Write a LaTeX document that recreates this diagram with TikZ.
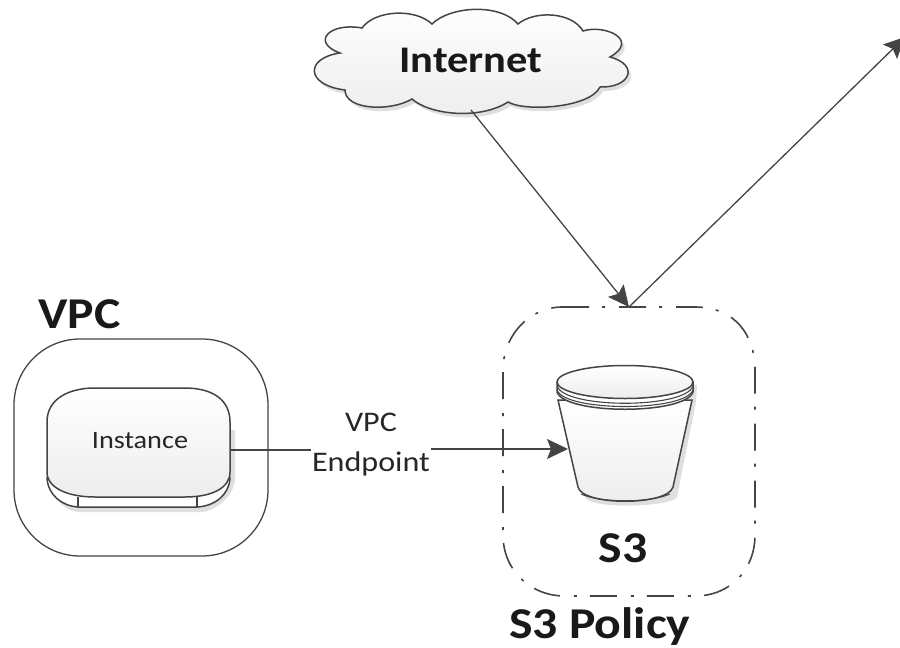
\documentclass[tikz,border=0pt]{standalone}
\usepackage{fontspec}
\setmainfont[FakeStretch=1.13]{Carlito}
\usetikzlibrary{arrows.meta}
\definecolor{ink}{HTML}{444444}
\definecolor{soft}{HTML}{EDEDED}
\definecolor{shade}{HTML}{D4D4D4}
\tikzset{
  outline/.style={draw=ink,line width=1.5pt},
  face/.style={outline,top color=white,bottom color=soft},
  softshadow/.style={fill=shade,draw=none,opacity=.75},
  wire/.style={draw=ink,line width=1.3pt},
  conn/.style={wire,-{Stealth[length=21pt,width=20pt,inset=4pt]}},
  anchorbox/.style={inner sep=0pt,outer sep=0pt,draw=none},
  biglabel/.style={font=\fontsize{44}{48}\selectfont\bfseries,text=black!90,inner sep=0pt},
  smalllabel/.style={font=\fontsize{25}{40}\selectfont,text=black!85,inner sep=1pt,align=center}
}
\begin{document}
\begin{tikzpicture}[x=1pt,y=-1pt]
\useasboundingbox (0,0) rectangle (900,648);
% cloud
\def\cloudpath{(362,28) .. controls (375,10) and (415,8) .. (432,24)
  .. controls (450,6) and (500,3) .. (518,24)
  .. controls (535,10) and (572,12) .. (583,31)
  .. controls (605,24) and (640,40) .. (610,57)
  .. controls (640,65) and (630,88) .. (600,87)
  .. controls (590,108) and (525,112) .. (508,102)
  .. controls (480,120) and (430,115) .. (412,99)
  .. controls (390,112) and (345,110) .. (345,90)
  .. controls (305,85) and (305,58) .. (340,53)
  .. controls (310,42) and (330,22) .. (362,28) -- cycle}
\fill[softshadow,shift={(3,4)}] \cloudpath;
\path[face] \cloudpath;
\node[anchorbox,minimum width=290pt,minimum height=100pt,font=\fontsize{37.6}{40}\selectfont\bfseries,text=black!90] (internet) at (471,60) {Internet};
% VPC
\node[anchorbox,draw=ink,line width=1.3pt,rounded corners=66pt,minimum width=254pt,minimum height=217pt] (vpc) at (141,447.5) {};
\node[biglabel,anchor=base west] (vpclabel) at (38,328) {VPC};
% instance
\fill[softshadow] (52,430) -- (235,430) -- (235,480) .. controls (233,497) and (215,512) .. (200,512) -- (80,512) .. controls (65,512) and (50,497) .. (50,480) -- cycle;
\path[outline,fill=white] (47,478) .. controls (48,495) and (62,506) .. (78,507) -- (197,507) .. controls (215,506) and (229,495) .. (230,478) -- cycle;
\draw[ink,line width=1.5pt] (78,497) -- (78,507) (197,497) -- (197,507);
\path[face] (47,422) .. controls (47,398) and (70,388) .. (95,388) -- (185,388) .. controls (210,388) and (230,398) .. (230,422)
  -- (230,472) .. controls (230,488) and (212,497) .. (185,497) -- (95,497) .. controls (68,497) and (47,488) .. (47,472) -- cycle;
\node[anchorbox,minimum width=183pt,minimum height=120pt] (instance) at (138.5,450) {};
\node[smalllabel] (instancelabel) at (140,441) {Instance};
% S3 policy boundary
\node[anchorbox,minimum width=252pt,minimum height=289pt] (policy) at (629,451.5) {};
\draw[ink,line width=1.6pt,dash pattern=on 27pt off 13pt on 3pt off 14pt] (562,307) -- (695,307) .. controls (735,307) and (755,335) .. (755,370) -- (755,535)
  .. controls (755,570) and (730,596) .. (695,596) -- (565,596) .. controls (530,596) and (503,570) .. (503,535) -- (503,370) .. controls (503,335) and (530,307) .. (562,307);
\node[biglabel,anchor=base west] (policylabel) at (509,638) {S3 Policy};
% bucket
\fill[softshadow] (562,385) -- (697,385) -- (696,402) -- (677,497) .. controls (672,507) and (590,510) .. (585,497) -- cycle;
\path[face] (558,400) -- (578,487) .. controls (582,506) and (668,506) .. (673,487) -- (692,400) -- cycle;
\draw[ink,line width=1pt] (581,494) .. controls (600,503) and (650,503) .. (670,494);
\path[outline,fill=white] (557,382) -- (557,392) .. controls (565,415) and (685,415) .. (693,392) -- (693,382) -- cycle;
\draw[ink,line width=1.1pt] (557,386) .. controls (565,409) and (685,409) .. (693,386)
  (557,390) .. controls (565,412) and (685,412) .. (693,390);
\path[face] (625,382) ellipse [x radius=68,y radius=16.5];
\node[anchorbox,minimum width=114pt,minimum height=120pt] (bucket) at (625,449) {};
\node[biglabel] (s3label) at (623,548) {S3};
% connectors
\coordinate (outside) at (905,37);
\draw[conn] (internet.south) -- (policy.north);
\draw[conn] (policy.north) -- (outside);
\node[smalllabel,font=\fontsize{28.4}{40}\selectfont] (endpoint) at (371,445) {VPC\\Endpoint};
\draw[wire] (instance.east) -- (instance.east -| endpoint.west);
\draw[conn] (bucket.west -| endpoint.east) -- (bucket.west);
\end{tikzpicture}
\end{document}
